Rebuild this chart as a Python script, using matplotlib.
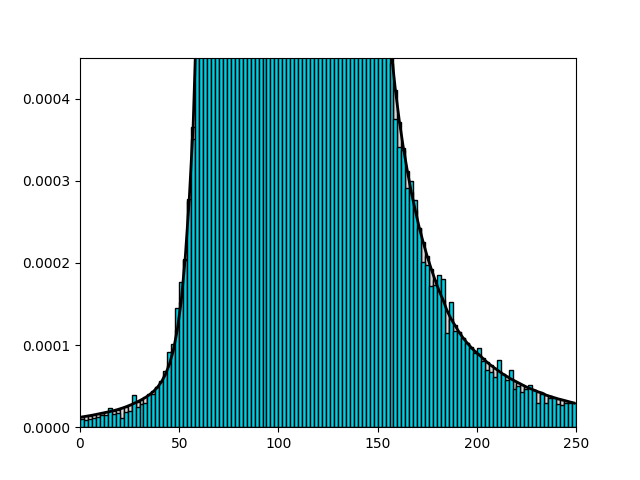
import numpy as np
import matplotlib
matplotlib.use("Agg")
import matplotlib.pyplot as plt

# bin edges: 0..250, width 2
bin_edges = np.arange(0, 252, 2)
bin_centers = bin_edges[:-1] + 1

# sample histogram (density), units of 1e-5
left_tail = [1.02, 0.82, 0.94, 1.14, 1.22, 1.43, 1.51, 2.33, 1.6, 1.75,
             1.18, 1.87, 2.0, 3.9, 2.4, 2.8, 3.0, 4.0, 4.1, 4.9,
             5.6, 6.8, 9.2, 10.1, 14.5, 17.7, 20.3, 27.8, 35.1]
# middle bins run off the top of the axes
plateau = [960, 985, 972, 990, 978, 981, 969, 994, 975, 983,
           988, 970, 979, 992, 976, 985, 967, 981, 990, 974,
           986, 979, 971, 993, 980, 977, 989, 968, 984, 975,
           991, 982, 973, 987, 978, 966, 990, 981, 976, 985,
           972, 988, 979, 983, 970, 986, 977, 959, 940]
right_tail = [44.4, 37.5, 34.1, 33.8, 29.1, 30.0, 27.7, 24.2, 20.1, 19.7,
              17.2, 17.3, 18.5, 18.1, 11.5, 15.3, 11.7, 11.6, 10.9, 10.2,
              9.6, 9.0, 9.6, 8.1, 7.0, 6.7, 6.1, 8.2, 6.5, 5.7,
              7.0, 4.7, 5.0, 4.3, 4.6, 5.1, 4.55, 2.9, 4.0, 2.9,
              3.6, 3.5, 2.8, 2.7, 3.0, 2.9, 2.9]
sample = np.array(left_tail + plateau + right_tail) * 1e-5

# fitted pdf at the bin centres, units of 1e-5
pdf_left = [1.25, 1.33, 1.41, 1.5, 1.6, 1.7, 1.8, 1.9, 2.02, 2.15,
            2.3, 2.47, 2.66, 2.87, 3.1, 3.35, 3.62, 3.95, 4.35, 4.85,
            5.5, 6.4, 7.6, 9.3, 11.8, 15.3, 20.5, 27.5, 36.5]
pdf_mid = [52, 85, 150, 260, 450, 700, 950,
           985, 985, 985, 985, 985, 985, 985, 985, 985, 985,
           985, 985, 985, 985, 985, 985, 985, 985, 985, 985,
           985, 985, 985, 985, 985, 985, 985, 985, 985, 985,
           985, 985, 985, 985,
           985, 950, 700, 450, 260, 150, 90, 56]
pdf_right = [45.5, 41.0, 37.2, 34.0, 31.2, 28.6, 26.4, 24.3, 22.5, 20.8,
             19.3, 17.9, 16.6, 15.5, 14.2, 13.2, 12.4, 11.6, 10.9, 10.3,
             9.75, 9.25, 8.85, 8.4, 7.95, 7.55, 7.2, 6.85, 6.5, 6.2,
             5.9, 5.65, 5.4, 5.15, 4.9, 4.7, 4.5, 4.3, 4.15, 3.9,
             3.75, 3.6, 3.45, 3.33, 3.2, 3.07, 2.95]
pdf = np.array(pdf_left + pdf_mid + pdf_right) * 1e-5

fig, ax = plt.subplots(figsize=(6.4, 4.8), dpi=100)
ax.bar(bin_edges[:-1], pdf, width=2, align='edge', color='0.85', edgecolor='black', linewidth=1)
ax.bar(bin_edges[:-1], sample, width=2, align='edge', color='#00cde0', edgecolor='black', linewidth=1)
ax.plot(bin_centers, pdf, color='black', linewidth=2)
ax.set_xlim(0, 250)
ax.set_ylim(0, 0.00045)
ax.set_yticks([0, 0.0001, 0.0002, 0.0003, 0.0004])
ax.set_yticklabels(['0.0000', '0.0001', '0.0002', '0.0003', '0.0004'])
fig.savefig("out.png")
